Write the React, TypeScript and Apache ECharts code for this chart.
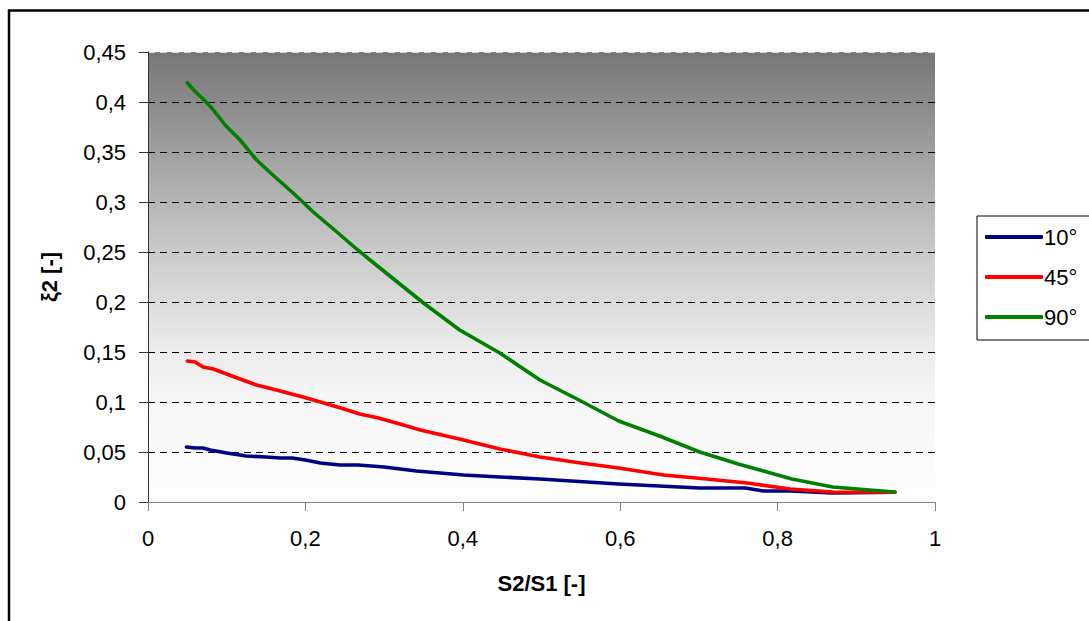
import React, { useEffect, useRef } from "react";
import * as echarts from "echarts";

const seriesNames = ["10°", "45°", "90°"];
const seriesColors = ["#000080", "#ff0000", "#008000"];

const x10 = [0.049, 0.06, 0.07, 0.079, 0.1, 0.125, 0.15, 0.168, 0.183, 0.2, 0.219, 0.244, 0.267, 0.3, 0.341, 0.401, 0.447, 0.498, 0.598, 0.701, 0.759, 0.782, 0.816, 0.87, 0.949];
const y10 = [0.055, 0.054, 0.054, 0.052, 0.049, 0.046, 0.045, 0.044, 0.044, 0.042, 0.039, 0.037, 0.037, 0.035, 0.031, 0.027, 0.025, 0.023, 0.018, 0.014, 0.014, 0.011, 0.011, 0.009, 0.0097];

const x45 = [0.05, 0.06, 0.07, 0.083, 0.11, 0.138, 0.168, 0.197, 0.219, 0.245, 0.269, 0.293, 0.32, 0.346, 0.401, 0.447, 0.498, 0.55, 0.598, 0.655, 0.71, 0.761, 0.816, 0.87, 0.949];
const y45 = [0.141, 0.14, 0.135, 0.133, 0.125, 0.117, 0.111, 0.105, 0.1, 0.094, 0.088, 0.084, 0.078, 0.072, 0.062, 0.053, 0.045, 0.039, 0.034, 0.027, 0.023, 0.019, 0.013, 0.01, 0.0097];

const x90 = [0.05, 0.058, 0.07, 0.081, 0.098, 0.117, 0.138, 0.16, 0.183, 0.21, 0.24, 0.265, 0.29, 0.32, 0.35, 0.396, 0.447, 0.498, 0.55, 0.598, 0.65, 0.701, 0.75, 0.782, 0.818, 0.87, 0.917, 0.949];
const y90 = [0.419, 0.412, 0.403, 0.394, 0.377, 0.362, 0.342, 0.326, 0.31, 0.29, 0.27, 0.253, 0.237, 0.218, 0.199, 0.172, 0.149, 0.122, 0.101, 0.081, 0.066, 0.05, 0.038, 0.031, 0.023, 0.015, 0.012, 0.01];

const xTitle = "S2/S1 [-]";
const yTitle = "ξ2 [-]";

const zip = (xs: number[], ys: number[]) => xs.map((x, i) => [x, ys[i]]);
const fmt = (v: number) => String(+v.toFixed(2)).replace(".", ",");

export default function App() {
  const ref = useRef<HTMLDivElement>(null);
  useEffect(() => {
    if (!ref.current) return;
    const chart = echarts.init(ref.current, undefined, { renderer: "svg" });
    const font = "Liberation Sans, Arial, sans-serif";
    const data = [zip(x10, y10), zip(x45, y45), zip(x90, y90)];
    const splitColors = ["#000", "#000", "#000", "#000", "#000", "#000", "#000", "#000", "#000", "#d8d8d8"];
    chart.setOption({
      animation: false,
      backgroundColor: "#ffffff",
      textStyle: { fontFamily: font },
      graphic: [
        {
          type: "rect",
          shape: { x: 9, y: 10.5, width: 1200, height: 700 },
          style: { fill: "none", stroke: "#000", lineWidth: 2.5 },
          silent: true,
          z: 100,
        },
      ],
      grid: {
        left: 148,
        top: 52,
        width: 787,
        height: 450,
        show: true,
        borderWidth: 0,
        backgroundColor: new echarts.graphic.LinearGradient(0, 0, 0, 1, [
          { offset: 0, color: "#777777" },
          { offset: 0.111, color: "#8a8a8a" },
          { offset: 0.222, color: "#a0a0a0" },
          { offset: 0.333, color: "#b5b5b5" },
          { offset: 0.444, color: "#cacaca" },
          { offset: 0.556, color: "#dcdcdc" },
          { offset: 0.667, color: "#ececec" },
          { offset: 0.778, color: "#f6f6f6" },
          { offset: 1, color: "#fefefe" },
        ]),
      },
      legend: {
        orient: "vertical",
        left: 977,
        top: 216,
        width: 200,
        padding: [10, 200, 12, 8],
        borderColor: "#000",
        borderWidth: 1,
        backgroundColor: "#fff",
        icon: "roundRect",
        itemWidth: 58,
        itemHeight: 4,
        itemGap: 18,
        textStyle: { fontSize: 22, color: "#000", fontFamily: font, padding: [0, 0, 0, -4] },
        data: seriesNames,
      },
      xAxis: {
        type: "value",
        min: 0,
        max: 1,
        interval: 0.2,
        name: xTitle,
        nameLocation: "middle",
        nameGap: 70,
        nameTextStyle: { fontSize: 22, fontWeight: "bold", color: "#000", fontFamily: font },
        axisLine: { show: true, lineStyle: { color: "#808080", width: 1 } },
        axisTick: { show: true, inside: false, length: 9, lineStyle: { color: "#808080" } },
        axisLabel: { fontSize: 22, color: "#000", margin: 25, formatter: fmt, fontFamily: font },
        splitLine: { show: false },
      },
      yAxis: {
        type: "value",
        min: 0,
        max: 0.45,
        interval: 0.05,
        name: yTitle,
        nameLocation: "middle",
        nameGap: 88,
        nameRotate: 90,
        nameTextStyle: { fontSize: 22, fontWeight: "bold", color: "#000", fontFamily: font },
        axisLine: { show: true, lineStyle: { color: "#333", width: 1 } },
        axisTick: { show: true, inside: false, length: 9, lineStyle: { color: "#333" } },
        axisLabel: { fontSize: 22, color: "#000", margin: 22, formatter: fmt, fontFamily: font },
        splitLine: { show: true, lineStyle: { color: splitColors, width: 1, type: [7, 5] } },
      },
      series: seriesNames.map((name, i) => ({
        name,
        type: "line",
        data: data[i],
        showSymbol: false,
        symbol: "none",
        smooth: false,
        lineStyle: { color: seriesColors[i], width: 3.6, cap: "round", join: "round" },
        itemStyle: { color: seriesColors[i] },
      })),
    });
    return () => chart.dispose();
  }, []);
  return (
    <div
      ref={ref}
      style={{ position: "fixed", left: 0, top: 0, width: 1089, height: 621 }}
    />
  );
}
